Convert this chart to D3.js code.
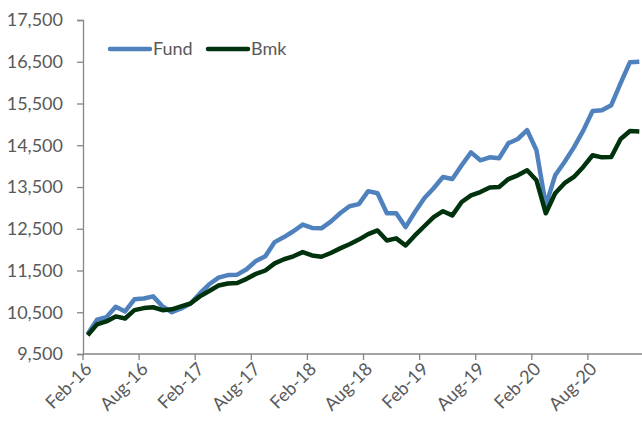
<!DOCTYPE html>
<html>
<head>
<meta charset="utf-8">
<script src="https://cdn.jsdelivr.net/npm/d3@7"></script>
<style>
  body { margin: 0; background: #fff; }
  svg { display: block; }
  text { font-family: Lato, "Open Sans", sans-serif; fill: #595959; }
</style>
</head>
<body>
<svg id="chart"></svg>
<script>
// monthly, Feb-16 .. Jan-21
var months = [];
for (var m = 0; m < 60; m++) months.push(new Date(2016, 1 + m, 1));

var fund = [9980, 10320, 10380, 10630, 10520, 10810, 10830, 10880, 10640, 10500, 10590, 10710,
            10950, 11170, 11330, 11390, 11400, 11530, 11730, 11840, 12180, 12300, 12440, 12600,
            12520, 12510, 12670, 12870, 13040, 13090, 13400, 13350, 12870, 12870, 12540, 12900,
            13230, 13470, 13740, 13690, 14020, 14330, 14140, 14210, 14190, 14550, 14650, 14860,
            14380, 13060, 13780, 14100, 14450, 14850, 15320, 15340, 15460, 15990, 16490, 16500];
var bmk  = [9950, 10210, 10280, 10400, 10350, 10550, 10600, 10620, 10550, 10570, 10640, 10710,
            10880, 11010, 11140, 11190, 11200, 11300, 11420, 11500, 11670, 11770, 11840, 11940,
            11860, 11830, 11920, 12030, 12130, 12240, 12370, 12460, 12220, 12270, 12100, 12340,
            12560, 12780, 12920, 12820, 13140, 13300, 13380, 13490, 13500, 13690, 13780, 13900,
            13660, 12870, 13350, 13590, 13740, 13980, 14260, 14210, 14220, 14650, 14840, 14830];
var yTicks = [9500, 10500, 11500, 12500, 13500, 14500, 15500, 16500, 17500];
var fmtMonth = d3.timeFormat("%b-%y");

var width = 642, height = 421;
var plotLeft = 83, plotTop = 20, plotBottom = 354;
var step = 9.35;

var svg = d3.select("#chart").attr("width", width).attr("height", height);

var x = d3.scaleBand()
    .domain(d3.range(months.length))
    .range([plotLeft, plotLeft + step * months.length]);
var y = d3.scaleLinear().domain([9500, 17500]).range([plotBottom, plotTop]);

// y axis
var yAxis = svg.append("g")
    .attr("transform", "translate(" + plotLeft + ",0)")
    .call(d3.axisLeft(y).tickValues(yTicks).tickSize(6).tickPadding(14).tickFormat(d3.format(",")));
yAxis.selectAll("text").style("font-size", "18px");

// x axis: ticks between categories every 6 months
var xTickIdx = d3.range(0, months.length, 6);
var xAxis = svg.append("g").attr("transform", "translate(0," + plotBottom + ")");
xAxis.append("line")
    .attr("x1", plotLeft).attr("x2", width + 2)
    .attr("y1", 0).attr("y2", 0);
xAxis.selectAll(".tk").data(xTickIdx).enter().append("line")
    .attr("class", "tk")
    .attr("x1", function(d) { return x(d); }).attr("x2", function(d) { return x(d); })
    .attr("y1", 0).attr("y2", 6);
xAxis.selectAll(".lb").data(xTickIdx).enter().append("text")
    .attr("class", "lb")
    .attr("text-anchor", "end")
    .attr("transform", function(d) { return "translate(" + (x(d) + 10) + ",16) rotate(-45)"; })
    .style("font-size", "18px")
    .text(function(d) { return fmtMonth(months[d]); });

svg.selectAll(".domain, .tick line, g line").attr("stroke", "#868686").attr("stroke-width", 1.3);

var line = d3.line()
    .x(function(d, i) { return x(i) + x.bandwidth() / 2; })
    .y(function(d) { return y(d); });

var series = [
  {name: "Fund", values: fund, color: "#4F81BD"},
  {name: "Bmk", values: bmk, color: "#00330D"}
];

svg.selectAll(".series").data(series).enter().append("path")
    .attr("class", "series")
    .attr("d", function(d) { return line(d.values); })
    .attr("fill", "none")
    .attr("stroke", function(d) { return d.color; })
    .attr("stroke-width", 4.5)
    .attr("stroke-linejoin", "round");

// legend
var legend = svg.selectAll(".legend").data(series).enter().append("g")
    .attr("class", "legend")
    .attr("transform", function(d, i) { return "translate(" + (110 + i * 98) + ",49)"; });
legend.append("line")
    .attr("x1", 0).attr("x2", 40).attr("y1", 0).attr("y2", 0)
    .attr("stroke", function(d) { return d.color; })
    .attr("stroke-width", 4.5)
    .attr("stroke-linecap", "round");
legend.append("text")
    .attr("x", 43).attr("y", 6)
    .style("font-size", "18px")
    .text(function(d) { return d.name; });
</script>
</body>
</html>
